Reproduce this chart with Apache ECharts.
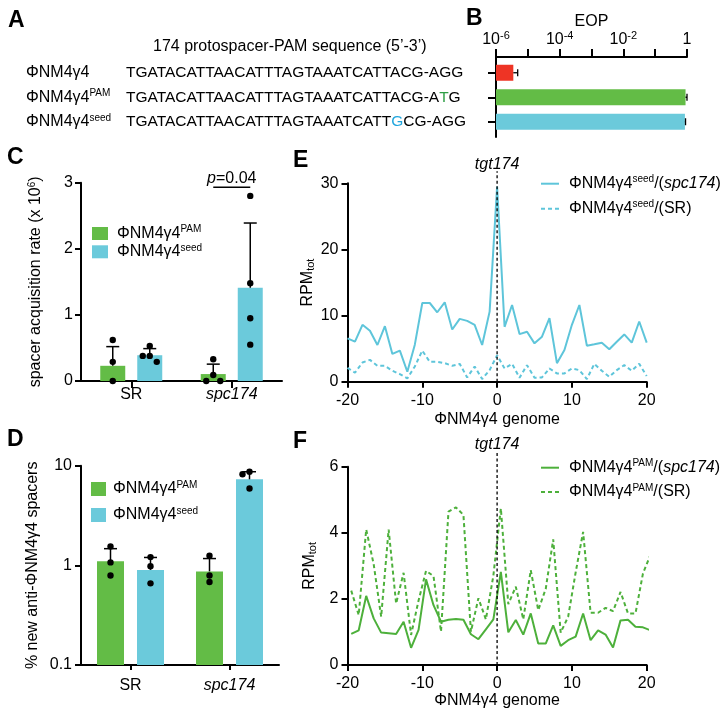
<!DOCTYPE html>
<html><head><meta charset="utf-8">
<script src="https://cdn.jsdelivr.net/npm/echarts@6/dist/echarts.min.js"></script>
<style>html,body{margin:0;padding:0;background:#fff}#c{width:728px;height:716px}</style>
</head><body><div id="c"></div>
<script>
// ---------------- data ----------------
const phageNames = ['ΦNM4γ4', 'ΦNM4γ4{sup|PAM}', 'ΦNM4γ4{sup|seed}'];
const protospacerSeqs = [
  'TGATACATTAACATTTAGTAAATCATTACG-AGG',
  'TGATACATTAACATTTAGTAAATCATTACG-A{g|T}G',
  'TGATACATTAACATTTAGTAAATCATT{b|G}CG-AGG'
];
const seqHeader = '174 protospacer-PAM sequence (5’-3’)';
const eopMean = [3.5e-6, 0.9, 0.86];
const eopErr = [1.3e-6, 0.1, 0.04];

const hostCats = ['SR', 'spc174'];
// C: spacer acquisition rate (x 10^6)
const acqPamMean = [0.23, 0.105];
const acqPamSd = [0.29, 0.15];
const acqPamPts = [[0.62, 0.29, 0.0], [0.33, 0.09, 0.0, 0.0]];
const acqSeedMean = [0.39, 1.41];
const acqSeedSd = [0.10, 0.98];
const acqSeedPts = [[0.53, 0.38, 0.38, 0.29], [2.8, 1.48, 0.95, 0.55]];
const pValueC = '0.04';
// D: % new anti-phage spacers
const pctPamMean = [1.1, 0.87];
const pctPamSd = [0.37, 0.30];
const pctPamPts = [[1.55, 1.07, 0.79], [1.25, 0.79, 0.68]];
const pctSeedMean = [0.9, 7.3];
const pctSeedSd = [0.3, 1.4];
const pctSeedPts = [[1.21, 0.98, 0.66], [8.7, 8.2, 5.9]];
// E
const genomePosE = [-20,-19,-18,-17,-16,-15,-14,-13,-12,-11,-10,-9,-8,-7,-6,-5,-4,-3,-2,-1,0,1,2,3,4,5,6,7,8,9,10,11,12,13,14,15,16,17,18,19,20];
const rpmSeedSpc = [6.56,6.05,8.6,7.7,5.55,8.4,4.2,4.7,1.5,5.6,11.9,11.9,10.5,12.0,7.9,9.5,9.2,8.6,5.55,10.6,29.5,8.3,11.6,7.2,7.55,5.8,6.8,9.6,2.8,4.8,8.6,11.6,5.45,5.65,5.9,4.9,6.05,7.15,5.9,9.1,5.9];
const rpmSeedSR = [2.1,1.35,2.9,3.3,2.4,2.4,1.65,1.15,0.5,2.3,4.7,3.0,3.0,2.8,2.4,2.7,0.65,2.3,0.4,1.75,4.0,2.0,2.7,0.6,2.5,0.6,0.65,2.0,1.25,1.25,2.0,1.75,0.4,2.7,1.65,0.75,1.75,2.5,1.65,2.7,0.85];
// F
const genomePosF = [-19.5,-18.5,-17.5,-16.5,-15.5,-14.5,-13.5,-12.5,-11.5,-10.5,-9.5,-8.5,-7.5,-6.5,-5.5,-4.5,-3.5,-2.5,-1.5,-0.5,0.5,1.5,2.5,3.5,4.5,5.5,6.5,7.5,8.5,9.5,10.5,11.5,12.5,13.5,14.5,15.5,16.5,17.5,18.5,19.5,20.5];
const rpmPamSpc = [0.94,1.05,2.09,1.41,0.98,0.96,0.94,1.31,0.52,1.06,2.59,1.81,1.31,1.37,1.39,1.37,0.93,0.78,1.08,1.38,2.82,0.99,1.36,0.92,1.56,0.65,0.65,1.2,0.58,0.75,0.86,1.56,0.75,1.05,0.92,0.53,1.35,1.37,1.16,1.14,1.05];
const rpmPamSR = [2.25,1.51,4.1,3.05,1.46,4.1,1.86,2.79,0.91,1.95,2.85,2.69,1.01,4.64,4.77,4.54,1.01,2.02,1.38,2.7,4.74,1.84,2.37,1.38,2.87,1.66,2.3,3.8,0.98,1.46,2.8,4.03,1.58,1.58,1.73,1.63,2.21,1.56,1.56,2.77,3.33];
const targetPos = 0;

// ---------------- styles ----------------
const FONT = 'Liberation Sans, Arial, Helvetica, sans-serif';
const GREEN = '#63BC46', BLUE = '#6BCADB', RED = '#EE3425';
const LBLUE = '#5EC5DA', LGREEN = '#4DB03B';
const SUP = {fontSize: 10, padding: [0, 0, 8, 0], fontFamily: FONT, color: '#000', lineHeight: 16};
const SUB = {fontSize: 11, padding: [7, 0, 0, 0], fontFamily: FONT, color: '#000', lineHeight: 16};
const IT = {fontSize: 16, fontStyle: 'italic', fontFamily: FONT, color: '#000', lineHeight: 16};

function beeswarm(ys, r) {
  const placed = [], offs = [];
  const step = 2 * r + 0.6;
  ys.forEach(y => {
    const cands = [0, -step, step, -2 * step, 2 * step];
    let chosen = 0;
    for (const c of cands) {
      if (placed.every(p => Math.hypot(p[0] - c, p[1] - y) >= 2 * r - 0.01)) { chosen = c; break; }
    }
    placed.push([chosen, y]); offs.push(chosen);
  });
  return offs;
}

function vBarGroup(cfg) {
  return function (params, api) {
    const i = params.dataIndex;
    const ci = api.value(0), m = api.value(1);
    const pb = api.coord([ci, cfg.base]);
    const pm = api.coord([ci, m]);
    const pe = api.coord([ci, m + cfg.sd[i]]);
    const x = pb[0] + cfg.offset;
    const ch = [
      {type: 'rect', shape: {x: x - cfg.width / 2, y: pm[1], width: cfg.width, height: pb[1] - pm[1]}, style: {fill: cfg.color}},
      {type: 'line', shape: {x1: x, y1: pm[1], x2: x, y2: pe[1]}, style: {stroke: '#000', lineWidth: 1.5}},
      {type: 'line', shape: {x1: x - 6.5, y1: pe[1], x2: x + 6.5, y2: pe[1]}, style: {stroke: '#000', lineWidth: 1.5}}
    ];
    const ys = cfg.pts[i].map(v => api.coord([ci, v])[1]);
    const offs = beeswarm(ys, 3.2);
    ys.forEach((y, k) => ch.push({type: 'circle', shape: {cx: x + offs[k], cy: y, r: 3.2}, style: {fill: '#000'}}));
    return {type: 'group', children: ch};
  };
}

function eopBars(params, api) {
  const i = params.dataIndex;
  const v = api.value(0), ci = api.value(1);
  const p0 = api.coord([1e-6, ci]), p1 = api.coord([v, ci]), pe = api.coord([v + eopErr[i], ci]);
  const h = 16, cols = [RED, GREEN, BLUE];
  return {type: 'group', children: [
    {type: 'rect', shape: {x: p0[0], y: p0[1] - h / 2, width: p1[0] - p0[0], height: h}, style: {fill: cols[i]}},
    {type: 'line', shape: {x1: p1[0], y1: p1[1], x2: pe[0], y2: pe[1]}, style: {stroke: '#000', lineWidth: 1.3}},
    {type: 'line', shape: {x1: pe[0], y1: pe[1] - 3.5, x2: pe[0], y2: pe[1] + 3.5}, style: {stroke: '#000', lineWidth: 1.3}}
  ]};
}

function targetLine(ymax, ext) {
  return function (params, api) {
    const p0 = api.coord([api.value(0), 0]), p1 = api.coord([api.value(0), ymax]);
    const top = p1[1] - ext;
    return {type: 'group', children: [
      {type: 'line', shape: {x1: p0[0], y1: p0[1], x2: p1[0], y2: top}, style: {stroke: '#000', lineWidth: 1.3, lineDash: [3, 2.5]}},
      {type: 'text', style: {text: 'tgt174', x: p1[0], y: top + 1, align: 'center', verticalAlign: 'bottom', fontSize: 16, fontStyle: 'italic', fontFamily: FONT, fill: '#000'}}
    ]};
  };
}

function pBracket(params, api) {
  const c = api.coord([api.value(0), api.value(1)]);
  return {type: 'group', children: [
    {type: 'line', shape: {x1: c[0] - 18.5, y1: c[1], x2: c[0] + 18.5, y2: c[1]}, style: {stroke: '#000', lineWidth: 1.5}},
    {type: 'text', style: {text: '{i|p}=' + pValueC, x: c[0], y: c[1] - 1, align: 'center', verticalAlign: 'bottom', fontSize: 16, fontFamily: FONT, fill: '#000',
      rich: {i: {fontSize: 16, fontStyle: 'italic', fontFamily: FONT, fill: '#000'}}}}
  ]};
}

const axisCommon = {
  axisLine: {show: true, onZero: false, lineStyle: {color: '#000', width: 2}},
  axisTick: {show: true, length: 6, lineStyle: {color: '#000', width: 2}},
  axisLabel: {color: '#000', fontSize: 16, fontFamily: FONT},
  splitLine: {show: false}
};
function ax(extra) { return Object.assign({}, JSON.parse(JSON.stringify(axisCommon)), extra); }

const legendNames = {
  C_PAM: 'ΦNM4γ4{sup|PAM}', C_seed: 'ΦNM4γ4{sup|seed}',
  D_PAM: 'ΦNM4γ4{sup|PAM}', D_seed: 'ΦNM4γ4{sup|seed}',
  E_spc: 'ΦNM4γ4{sup|seed}/({i|spc174})', E_SR: 'ΦNM4γ4{sup|seed}/(SR)',
  F_spc: 'ΦNM4γ4{sup|PAM}/({i|spc174})', F_SR: 'ΦNM4γ4{sup|PAM}/(SR)'
};
function legend(names, left, top, iw, ih, gap, pad, icon) {
  const l = {data: names, left: left, top: top, orient: 'vertical', padding: 0, itemWidth: iw, itemHeight: ih, itemGap: gap,
    selectedMode: false, formatter: n => legendNames[n],
    textStyle: {fontSize: 16, color: '#000', fontFamily: FONT, lineHeight: 16, padding: [0, 0, 0, pad], rich: {sup: SUP, i: IT}}};
  if (icon) l.icon = icon; else l.itemStyle = {opacity: 0};
  return l;
}

const catLabel = v => v === 'spc174' ? '{i|spc174}' : v;

const texts = [];
function addText(t, x, y, o) {
  texts.push({type: 'text', x: x, y: y, style: Object.assign({text: t, fill: '#000', fontFamily: FONT, fontSize: 16, verticalAlign: 'middle', align: 'left'}, o || {})});
}
[['A', 8, 21], ['B', 466, 19], ['C', 7, 158], ['D', 7, 440], ['E', 293, 161], ['F', 293, 442]].forEach(p => addText(p[0], p[1], p[2], {fontSize: 23, fontWeight: 'bold'}));
addText(seqHeader, 153, 47);
const rowY = [72.75, 97.25, 121.75];
phageNames.forEach((n, i) => addText(n, 26, rowY[i], {rich: {sup: {fontSize: 10, padding: [0, 0, 8, 0], fontFamily: FONT, fill: '#000', lineHeight: 16}}}));
protospacerSeqs.forEach((s, i) => addText(s, 126, rowY[i], {fontSize: 15.5, rich: {
  g: {fontSize: 15.5, fontFamily: FONT, fill: '#2E9E45'}, b: {fontSize: 15.5, fontFamily: FONT, fill: '#1FA5DD'}}}));

const option = {
  animation: false,
  textStyle: {fontFamily: FONT},
  graphic: texts,
  grid: [
    {left: 496, top: 57, width: 191, height: 80, outerBoundsMode: 'none'},
    {left: 496, top: 60.5, width: 191, height: 73.5, outerBoundsMode: 'none'},
    {left: 81, top: 182.7, width: 201, height: 198.3, outerBoundsMode: 'none'},
    {left: 81, top: 465.7, width: 198, height: 199.3, outerBoundsMode: 'none'},
    {left: 347.5, top: 183.3, width: 299.2, height: 198.4, outerBoundsMode: 'none'},
    {left: 347.5, top: 466.7, width: 299.2, height: 198.3, outerBoundsMode: 'none'}
  ],
  xAxis: [
    ax({gridIndex: 0, type: 'log', logBase: 10, min: 1e-6, max: 1, position: 'top', name: 'EOP', nameLocation: 'middle', nameGap: 26,
      nameTextStyle: {fontSize: 16, color: '#000'},
      axisTick: {show: true, length: 8, lineStyle: {color: '#000', width: 2}},
      axisLabel: {color: '#000', fontSize: 16, margin: 9, fontFamily: FONT, showMinLabel: true, showMaxLabel: true,
        formatter: v => { const e = Math.round(Math.log10(v)); if (e % 2 !== 0) return ''; return e === 0 ? '1' : '10{sup|' + e + '}'; },
        rich: {sup: {fontSize: 11, padding: [0, 0, 8, 0], fontFamily: FONT, color: '#000', lineHeight: 16}}}}),
    {gridIndex: 1, type: 'log', logBase: 10, min: 1e-6, max: 1, show: false},
    ax({gridIndex: 2, type: 'category', data: hostCats,
      axisTick: {show: true, alignWithLabel: true, length: 7, lineStyle: {color: '#000', width: 2}},
      axisLabel: {color: '#000', fontSize: 16, margin: 6, fontFamily: FONT, formatter: catLabel, rich: {i: IT}}}),
    ax({gridIndex: 3, type: 'category', data: hostCats,
      axisTick: {show: true, alignWithLabel: true, length: 5, lineStyle: {color: '#000', width: 2}},
      axisLabel: {color: '#000', fontSize: 16, margin: 13, fontFamily: FONT, formatter: catLabel, rich: {i: IT}}}),
    ax({gridIndex: 4, type: 'value', min: -20, max: 20, interval: 10, name: 'ΦNM4γ4 genome', nameLocation: 'middle', nameGap: 30,
      nameTextStyle: {fontSize: 16, color: '#000'}, axisLabel: {color: '#000', fontSize: 16, margin: 11, fontFamily: FONT}}),
    ax({gridIndex: 5, type: 'value', min: -20, max: 20, interval: 10, name: 'ΦNM4γ4 genome', nameLocation: 'middle', nameGap: 27,
      nameTextStyle: {fontSize: 16, color: '#000'}, axisLabel: {color: '#000', fontSize: 16, margin: 11, fontFamily: FONT}})
  ],
  yAxis: [
    ax({gridIndex: 0, type: 'value', min: 0, max: 1, axisTick: {show: false}, axisLabel: {show: false}}),
    {gridIndex: 1, type: 'category', inverse: true, data: ['0', '1', '2'], axisLine: {show: false},
      axisTick: {show: true, alignWithLabel: true, length: 8, lineStyle: {color: '#000', width: 2}}, axisLabel: {show: false}, splitLine: {show: false}},
    ax({gridIndex: 2, type: 'value', min: 0, max: 3, interval: 1, name: 'spacer acquisition rate (x 10{sup|6})', nameLocation: 'middle', nameRotate: 90, nameGap: 37,
      nameTextStyle: {fontSize: 16, color: '#000', rich: {sup: SUP}}, axisLabel: {color: '#000', fontSize: 16, margin: 8, fontFamily: FONT}}),
    ax({gridIndex: 3, type: 'log', logBase: 10, min: 0.1, max: 10, name: '% new anti-ΦNM4γ4 spacers', nameLocation: 'middle', nameRotate: 90, nameGap: 40,
      nameTextStyle: {fontSize: 16, color: '#000'}, axisLabel: {color: '#000', fontSize: 16, margin: 9, fontFamily: FONT}}),
    ax({gridIndex: 4, type: 'value', min: 0, max: 30, interval: 10, name: 'RPM{sub|tot}', nameLocation: 'middle', nameRotate: 90, nameGap: 30,
      nameTextStyle: {fontSize: 16, color: '#000', rich: {sub: SUB}}, axisLabel: {color: '#000', fontSize: 16, margin: 9, fontFamily: FONT}}),
    ax({gridIndex: 5, type: 'value', min: 0, max: 6, interval: 2, name: 'RPM{sub|tot}', nameLocation: 'middle', nameRotate: 90, nameGap: 30,
      nameTextStyle: {fontSize: 16, color: '#000', rich: {sub: SUB}}, axisLabel: {color: '#000', fontSize: 16, margin: 9, fontFamily: FONT}})
  ],
  legend: [
    legend(['C_PAM', 'C_seed'], 92, 224.5, 16, 13, 0.3, 4, 'rect'),
    legend(['D_PAM', 'D_seed'], 91, 480, 15, 14, 8, 2, 'rect'),
    legend(['E_spc', 'E_SR'], 540, 174.7, 18, 14, 7, 5),
    legend(['F_spc', 'F_SR'], 540, 458.7, 18, 14, 6.3, 5)
  ],
  series: [
    {type: 'custom', name: 'EOP', xAxisIndex: 1, yAxisIndex: 1, renderItem: eopBars, data: eopMean.map((v, i) => [v, i])},
    {type: 'custom', name: 'C_PAM', xAxisIndex: 2, yAxisIndex: 2, itemStyle: {color: GREEN},
      renderItem: vBarGroup({base: 0, offset: -18.5, width: 25, color: GREEN, sd: acqPamSd, pts: acqPamPts}),
      data: acqPamMean.map((v, i) => [i, v])},
    {type: 'custom', name: 'C_seed', xAxisIndex: 2, yAxisIndex: 2, itemStyle: {color: BLUE},
      renderItem: vBarGroup({base: 0, offset: 18.5, width: 25, color: BLUE, sd: acqSeedSd, pts: acqSeedPts}),
      data: acqSeedMean.map((v, i) => [i, v])},
    {type: 'custom', name: 'pval', xAxisIndex: 2, yAxisIndex: 2, renderItem: pBracket, data: [[1, 2.93]]},
    {type: 'custom', name: 'D_PAM', xAxisIndex: 3, yAxisIndex: 3, itemStyle: {color: GREEN},
      renderItem: vBarGroup({base: 0.1, offset: -20, width: 27, color: GREEN, sd: pctPamSd, pts: pctPamPts}),
      data: pctPamMean.map((v, i) => [i, v])},
    {type: 'custom', name: 'D_seed', xAxisIndex: 3, yAxisIndex: 3, itemStyle: {color: BLUE},
      renderItem: vBarGroup({base: 0.1, offset: 20, width: 27, color: BLUE, sd: pctSeedSd, pts: pctSeedPts}),
      data: pctSeedMean.map((v, i) => [i, v])},
    {type: 'line', name: 'E_spc', xAxisIndex: 4, yAxisIndex: 4, symbol: 'none', clip: false, color: LBLUE,
      lineStyle: {color: LBLUE, width: 2}, data: genomePosE.map((x, i) => [x, rpmSeedSpc[i]])},
    {type: 'line', name: 'E_SR', xAxisIndex: 4, yAxisIndex: 4, symbol: 'none', clip: false, color: LBLUE,
      lineStyle: {color: LBLUE, width: 2, type: [4, 3]}, data: genomePosE.map((x, i) => [x, rpmSeedSR[i]])},
    {type: 'custom', name: 'tgtE', xAxisIndex: 4, yAxisIndex: 4, renderItem: targetLine(30, 12), data: [[targetPos, 0]], z: 5},
    {type: 'line', name: 'F_spc', xAxisIndex: 5, yAxisIndex: 5, symbol: 'none', clip: false, color: LGREEN,
      lineStyle: {color: LGREEN, width: 2}, data: genomePosF.map((x, i) => [x, rpmPamSpc[i]])},
    {type: 'line', name: 'F_SR', xAxisIndex: 5, yAxisIndex: 5, symbol: 'none', clip: false, color: LGREEN,
      lineStyle: {color: LGREEN, width: 2, type: [4, 3]}, data: genomePosF.map((x, i) => [x, rpmPamSR[i]])},
    {type: 'custom', name: 'tgtF', xAxisIndex: 5, yAxisIndex: 5, renderItem: targetLine(6, 15), data: [[targetPos, 0]], z: 5}
  ]
};
const chart = echarts.init(document.getElementById('c'), null, {renderer: 'canvas'});
chart.setOption(option);
</script></body></html>
